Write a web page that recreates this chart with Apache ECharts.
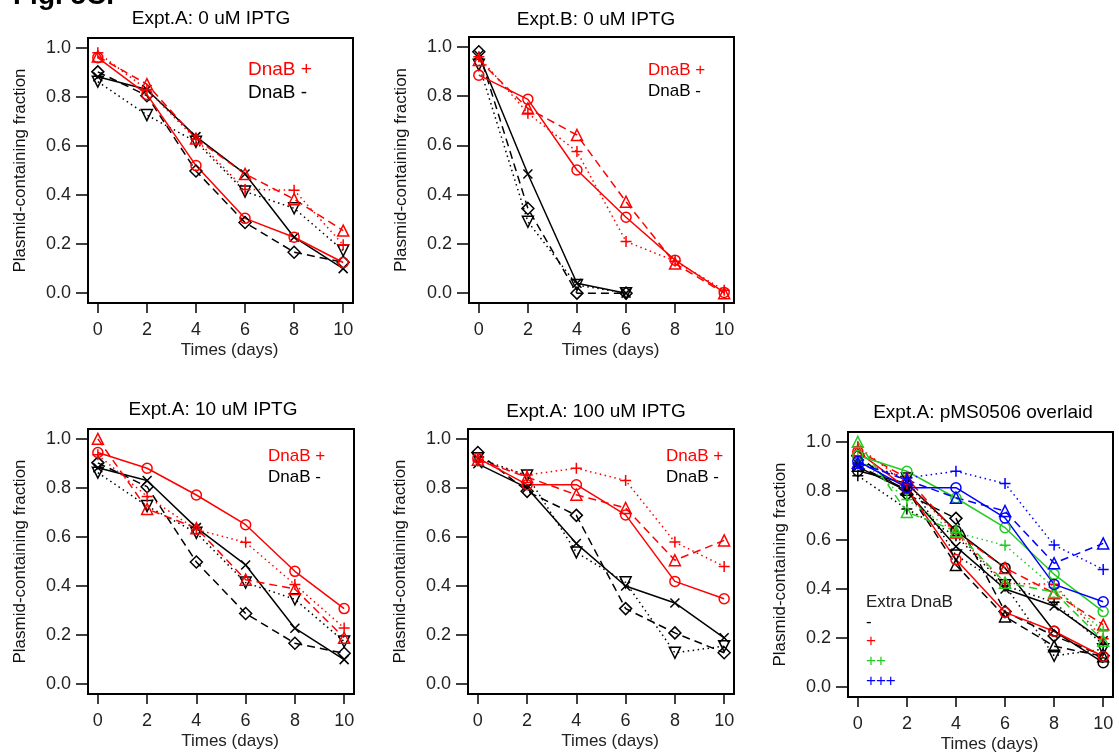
<!DOCTYPE html>
<html>
<head>
<meta charset="utf-8">
<script src="https://cdn.jsdelivr.net/npm/echarts@6/dist/echarts.min.js"></script>
<style>
  html, body { margin: 0; padding: 0; background: #fff; }
  #chart { width: 1119px; height: 756px; }
</style>
</head>
<body>
<div id="chart"></div>
<script>
// 横轴: 天数
const days = [0, 2, 4, 6, 8, 10];

// Expt.A 0 uM IPTG, DnaB + (三个重复)
const a0Pos1 = [0.96, 0.81, 0.52, 0.305, 0.228, 0.125];
const a0Pos2 = [0.965, 0.852, 0.63, 0.486, 0.383, 0.255];
const a0Pos3 = [0.98, 0.83, 0.627, 0.423, 0.42, 0.197];
// Expt.A DnaB - (0 uM 与 10 uM 图中相同)
const aNeg1 = [0.882, 0.83, 0.638, 0.486, 0.228, 0.10];
const aNeg2 = [0.902, 0.805, 0.498, 0.288, 0.167, 0.126];
const aNeg3 = [0.862, 0.726, 0.617, 0.414, 0.346, 0.174];

// Expt.B 0 uM IPTG
const bPos1 = [0.885, 0.787, 0.50, 0.308, 0.134, 0.003];
const bPos2 = [0.947, 0.75, 0.642, 0.371, 0.12, 0.0];
const bPos3 = [0.96, 0.73, 0.575, 0.21, 0.13, 0.012];
const bNeg1 = [0.967, 0.484, 0.04, 0.0, null, null];
const bNeg2 = [0.98, 0.344, 0.0, 0.0, null, null];
const bNeg3 = [0.927, 0.29, 0.033, 0.0, null, null];

// Expt.A 10 uM IPTG, DnaB +
const a10Pos1 = [0.944, 0.88, 0.771, 0.65, 0.46, 0.308];
const a10Pos2 = [1.0, 0.714, 0.636, 0.426, 0.388, 0.189];
const a10Pos3 = [0.935, 0.765, 0.63, 0.578, 0.406, 0.229];

// Expt.A 100 uM IPTG
const a100Pos1 = [0.921, 0.813, 0.813, 0.69, 0.419, 0.348];
const a100Pos2 = [0.915, 0.844, 0.772, 0.718, 0.505, 0.586];
const a100Pos3 = [0.91, 0.853, 0.88, 0.83, 0.579, 0.48];
const a100Neg1 = [0.898, 0.80, 0.573, 0.40, 0.331, 0.189];
const a100Neg2 = [0.944, 0.786, 0.688, 0.308, 0.209, 0.128];
const a100Neg3 = [0.921, 0.85, 0.537, 0.415, 0.128, 0.155];

const RED = '#ff0000', BLACK = '#000000', GREEN = '#22cc22', BLUE = '#0000ff';
const FONT = 'Liberation Sans, Arial, sans-serif';
const LW = 1.5;
const XTICK = 10, YTICK = 12;  // 刻度长度

// 空心点形状
const SYM = {
    circle: {symbol: 'circle', size: 10},
    tri: {symbol: 'triangle', size: 11},
    plus: {symbol: 'path://M5,0L5,10M0,5L10,5', size: 11},
    cross: {symbol: 'path://M0,0L10,10M10,0L0,10', size: 9},
    diamond: {symbol: 'diamond', size: 12},
    dtri: {symbol: 'triangle', size: 11, rotate: 180}
};
const SOLID = 'solid', DASHED = [8, 5], DOTTED = [1.5, 3.5];

// 每个小图的外框位置
const panels = [
    {left: 88, top: 38, width: 265, height: 265},
    {left: 469, top: 37, width: 265, height: 266},
    {left: 88, top: 429, width: 266, height: 265},
    {left: 468, top: 429, width: 266, height: 265},
    {left: 848, top: 432, width: 265, height: 265}
];

function line(g, vals, color, dash, sym){
    let data = [];
    for (let i = 0; i < days.length; i ++){
        if (vals[i] !== null)
            data.push([days[i], vals[i]]);
    }
    // 数据用第 g 个小图的 3g 号轴
    return {
        type: 'line', xAxisIndex: 3 * g, yAxisIndex: 3 * g, data: data,
        symbol: sym.symbol, symbolSize: sym.size, symbolRotate: sym.rotate || 0,
        showAllSymbol: true, silent: true, animation: false, clip: false,
        emphasis: {disabled: true},
        lineStyle: {color: color, width: LW, type: dash},
        itemStyle: {color: 'rgba(0,0,0,0)', borderColor: color, borderWidth: LW}
    };
}

// 一组三个重复: 实线/虚线/点线
function group(g, arrs, color, syms){
    return [
        line(g, arrs[0], color, SOLID, syms[0]),
        line(g, arrs[1], color, DASHED, syms[1]),
        line(g, arrs[2], color, DOTTED, syms[2])
    ];
}

const posSyms = [SYM.circle, SYM.tri, SYM.plus];
const negSyms = [SYM.cross, SYM.diamond, SYM.dtri];

let series = [];
series = series.concat(group(0, [aNeg1, aNeg2, aNeg3], BLACK, negSyms));
series = series.concat(group(0, [a0Pos1, a0Pos2, a0Pos3], RED, posSyms));
series = series.concat(group(1, [bNeg1, bNeg2, bNeg3], BLACK, negSyms));
series = series.concat(group(1, [bPos1, bPos2, bPos3], RED, posSyms));
series = series.concat(group(2, [aNeg1, aNeg2, aNeg3], BLACK, negSyms));
series = series.concat(group(2, [a10Pos1, a10Pos2, a10Pos3], RED, posSyms));
series = series.concat(group(3, [a100Neg1, a100Neg2, a100Neg3], BLACK, negSyms));
series = series.concat(group(3, [a100Pos1, a100Pos2, a100Pos3], RED, posSyms));
// 叠加图
series = series.concat(group(4, [aNeg1, aNeg2, aNeg3], BLACK, posSyms));
series = series.concat(group(4, [a100Neg1, a100Neg2, a100Neg3], BLACK, negSyms));
series = series.concat(group(4, [a0Pos1, a0Pos2, a0Pos3], RED, posSyms));
series = series.concat(group(4, [a10Pos1, a10Pos2, a10Pos3], GREEN, posSyms));
series = series.concat(group(4, [a100Pos1, a100Pos2, a100Pos3], BLUE, posSyms));

// grid 0-4:   外框, 只画边框
// grid 5-9:   数据区, 横向 0~10, 纵向与外框相同 (y 范围 -0.04~1.04, R 默认留 4%)
// grid 10-14: 外框下方的刻度条, 用 splitLine 画 x 刻度
// grid 15-19: 外框左侧的刻度条, 用 splitLine 画 y 刻度
let grids = [], xAxes = [], yAxes = [];
panels.forEach(function(p){
    grids.push({left: p.left, top: p.top, width: p.width, height: p.height,
                show: true, borderColor: '#000', borderWidth: 2, containLabel: false});
});
panels.forEach(function(p){
    let px = p.width * 0.4 / 10.8;
    grids.push({left: p.left + px, top: p.top, width: p.width - 2 * px, height: p.height,
                show: false, containLabel: false});
});
panels.forEach(function(p){
    let px = p.width * 0.4 / 10.8;
    grids.push({left: p.left + px, top: p.top + p.height, width: p.width - 2 * px, height: XTICK,
                show: false, containLabel: false});
});
panels.forEach(function(p){
    let py = p.height * 0.04 / 1.08;
    grids.push({left: p.left - YTICK, top: p.top + py, width: YTICK, height: p.height - 2 * py,
                show: false, containLabel: false});
});

const tickLine = {show: true, lineStyle: {color: '#000', width: LW, type: 'solid'}};

panels.forEach(function(p, g){
    // 3g: 数据 x 轴 (隐藏)
    xAxes.push({gridIndex: 5 + g, type: 'value', min: 0, max: 10, show: false});
    yAxes.push({gridIndex: 5 + g, type: 'value', min: -0.04, max: 1.04, show: false});
    // 3g+1: x 刻度条, 带刻度文字和轴名
    xAxes.push({
        gridIndex: 10 + g, type: 'value', min: 0, max: 10, interval: 2,
        axisLine: {show: false}, axisTick: {show: false},
        splitLine: tickLine,
        axisLabel: {margin: 8, fontSize: 18, color: '#222', fontFamily: FONT},
        name: 'Times (days)', nameLocation: 'middle', nameGap: 29,
        nameTextStyle: {fontSize: 17, color: '#222', fontFamily: FONT, padding: [0, 0, 0, 18]}
    });
    yAxes.push({gridIndex: 10 + g, type: 'value', min: 0, max: 1, show: false});
    // 3g+2: y 刻度条, 带刻度文字和轴名
    xAxes.push({gridIndex: 15 + g, type: 'value', min: 0, max: 1, show: false});
    yAxes.push({
        gridIndex: 15 + g, type: 'value', min: 0, max: 1, interval: 0.2,
        axisLine: {show: false}, axisTick: {show: false},
        splitLine: tickLine,
        axisLabel: {margin: 5, fontSize: 18, color: '#222', fontFamily: FONT,
                    formatter: function(v){ return v.toFixed(1); }},
        name: 'Plasmid-containing fraction', nameLocation: 'middle', nameGap: 47,
        nameTextStyle: {fontSize: 17, color: '#111', fontFamily: FONT}
    });
});

function txt(x, y, s, color, size, align, weight){
    return {type: 'text', x: x, y: y, silent: true,
            style: {text: s, fill: color, font: (weight || 'normal') + ' ' + size + 'px ' + FONT,
                    align: align || 'left', verticalAlign: 'middle'}};
}

let graphics = [
    txt(13, -3.5, 'Fig. 5C.', '#000', 28, 'left', 'bold'),
    txt(211, 19, 'Expt.A: 0 uM IPTG', '#000', 19, 'center'),
    txt(596, 20, 'Expt.B: 0 uM IPTG', '#000', 19, 'center'),
    txt(213, 410, 'Expt.A: 10 uM IPTG', '#000', 19, 'center'),
    txt(596, 411.5, 'Expt.A: 100 uM IPTG', '#000', 19, 'center'),
    txt(983, 412.5, 'Expt.A: pMS0506 overlaid', '#000', 19, 'center'),
    txt(248, 70, 'DnaB +', RED, 19),
    txt(248, 93, 'DnaB -', BLACK, 19),
    txt(648, 70.5, 'DnaB +', RED, 17),
    txt(648, 91, 'DnaB -', BLACK, 17),
    txt(268, 456, 'DnaB +', RED, 17),
    txt(268, 477, 'DnaB -', BLACK, 17),
    txt(666, 456, 'DnaB +', RED, 17),
    txt(666, 477, 'DnaB -', BLACK, 17),
    txt(866, 602, 'Extra DnaB', '#222', 17),
    txt(866, 622, '-', BLACK, 17),
    txt(866, 641, '+', RED, 17),
    txt(866, 661, '++', GREEN, 17),
    txt(866, 681, '+++', BLUE, 17)
];

let chart = echarts.init(document.getElementById('chart'));
chart.setOption({
    animation: false,
    backgroundColor: '#fff',
    grid: grids,
    xAxis: xAxes,
    yAxis: yAxes,
    series: series,
    graphic: graphics
});
</script>
</body>
</html>
